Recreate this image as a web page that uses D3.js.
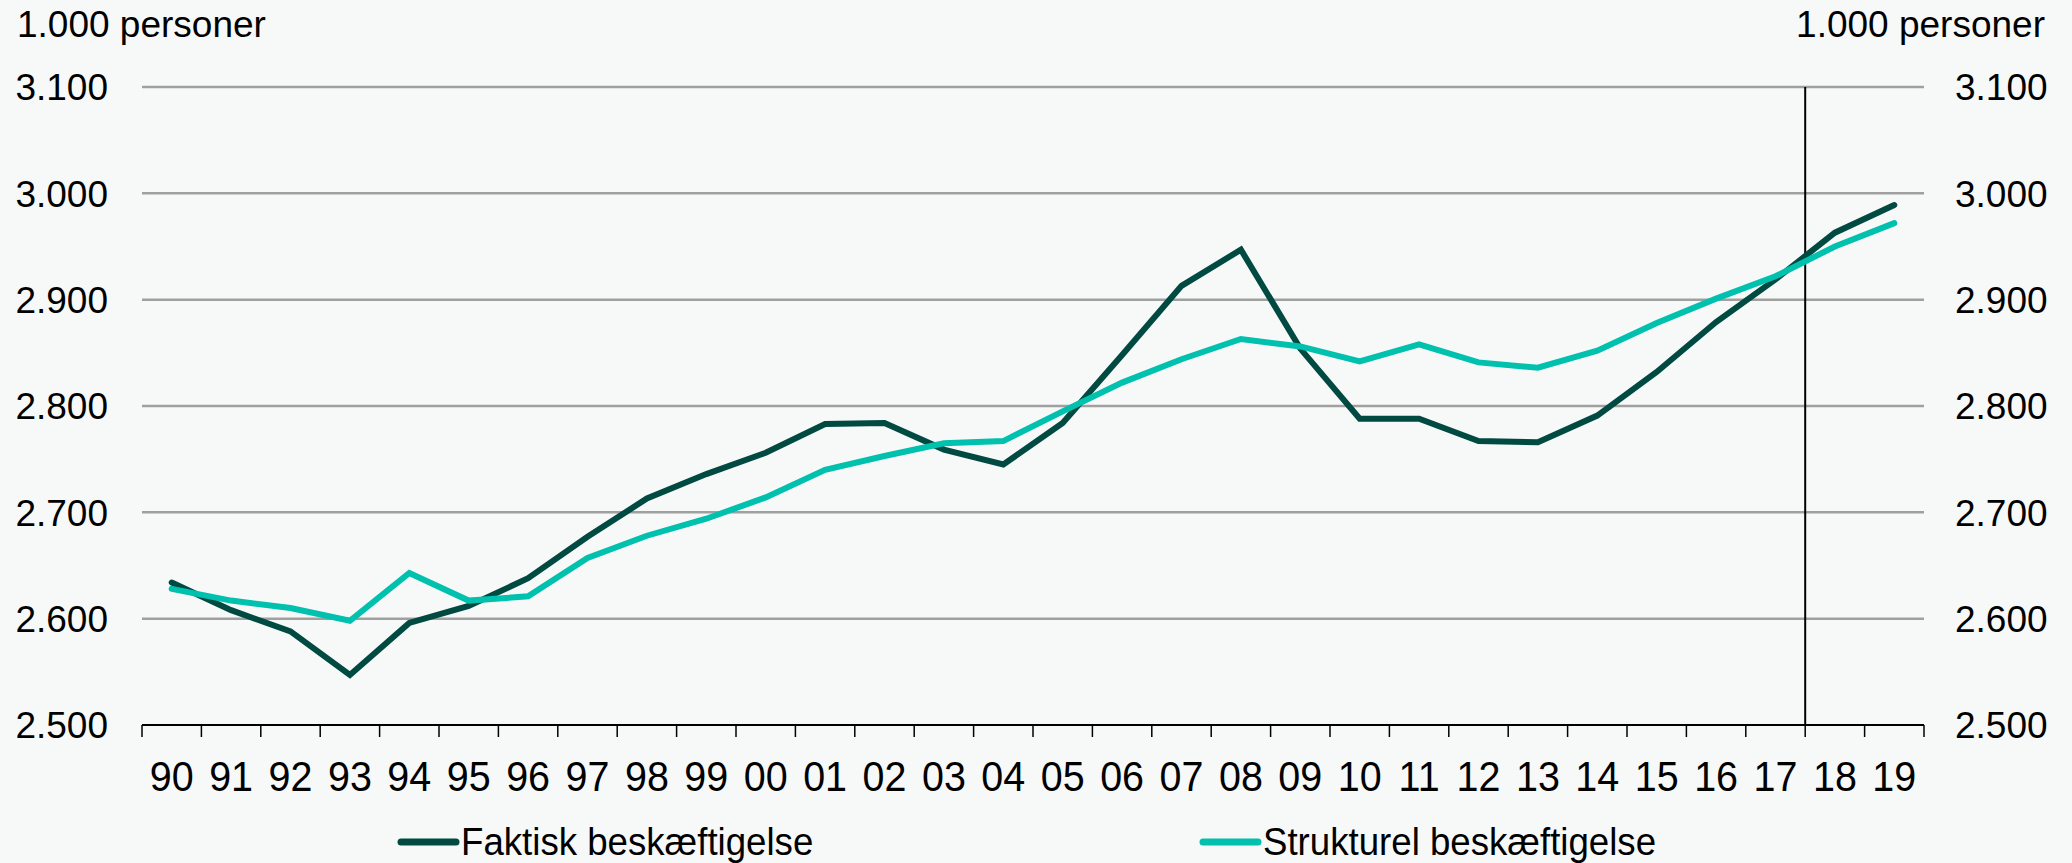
<!DOCTYPE html>
<html>
<head>
<meta charset="utf-8">
<script src="https://cdn.jsdelivr.net/npm/d3@7"></script>
<style>
  html, body { margin: 0; padding: 0; background: #f7f9f9; }
  svg { display: block; font-family: "Liberation Sans", Arial, sans-serif; }
</style>
</head>
<body>
<svg id="chart" width="2072" height="863"></svg>
<script>
// years on the x axis (two-digit labels)
var years = ["90","91","92","93","94","95","96","97","98","99","00","01","02","03","04",
             "05","06","07","08","09","10","11","12","13","14","15","16","17","18","19"];

// 1.000 personer
var faktisk = [2634, 2608, 2588, 2547, 2596, 2612, 2638, 2677, 2713, 2736, 2756, 2783, 2784, 2759, 2745,
               2784, 2848, 2913, 2947, 2854, 2788, 2788, 2767, 2766, 2791, 2832, 2879, 2919, 2963, 2989];
var strukturel = [2628, 2617, 2610, 2598, 2643, 2617, 2621, 2657, 2678, 2694, 2714, 2740, 2753, 2765, 2767,
                  2795, 2822, 2844, 2863, 2856, 2842, 2858, 2841, 2836, 2852, 2878, 2901, 2922, 2950, 2972];

var yTicks = [2500, 2600, 2700, 2800, 2900, 3000, 3100];
var seriesNames = ["Faktisk beskæftigelse", "Strukturel beskæftigelse"];
var colors = ["#004a42", "#00c0ae"];

var svg = d3.select("#chart");

var margin = {top: 87, right: 148, bottom: 138, left: 142},
    width = 2072 - margin.left - margin.right,
    height = 863 - margin.top - margin.bottom;

var x = d3.scaleBand()
  .domain(years)
  .range([margin.left, margin.left + width]);

var y = d3.scaleLinear()
  .domain([2500, 3100])
  .range([margin.top + height, margin.top]);

var fmt = function (v) { return d3.format(",")(v).replace(",", "."); };

// gridlines
svg.append("g")
  .selectAll("line")
  .data(yTicks.slice(1))
  .enter()
  .append("line")
    .attr("x1", margin.left)
    .attr("x2", margin.left + width)
    .attr("y1", function (d) { return y(d); })
    .attr("y2", function (d) { return y(d); })
    .style("stroke", "#a0a0a0")
    .style("stroke-width", 2.5);

// left y labels
svg.append("g")
  .selectAll("text")
  .data(yTicks)
  .enter()
  .append("text")
    .attr("x", 108)
    .attr("y", function (d) { return y(d); })
    .attr("dy", "0.36em")
    .attr("text-anchor", "end")
    .style("font-size", "37px")
    .text(fmt);

// right y labels
svg.append("g")
  .selectAll("text")
  .data(yTicks)
  .enter()
  .append("text")
    .attr("x", 1955)
    .attr("y", function (d) { return y(d); })
    .attr("dy", "0.36em")
    .attr("text-anchor", "start")
    .style("font-size", "37px")
    .text(fmt);

// unit labels
svg.append("text")
  .attr("x", 17).attr("y", 37)
  .style("font-size", "37px")
  .text("1.000 personer");
svg.append("text")
  .attr("x", 2045).attr("y", 37)
  .attr("text-anchor", "end")
  .style("font-size", "37px")
  .text("1.000 personer");

// x axis line + ticks between categories
var xAxis = svg.append("g");
xAxis.append("line")
  .attr("x1", margin.left).attr("x2", margin.left + width)
  .attr("y1", y(2500)).attr("y2", y(2500))
  .style("stroke", "#000").style("stroke-width", 2);

var bounds = years.map(function (d) { return x(d); }).concat([margin.left + width]);
xAxis.selectAll(".tick")
  .data(bounds)
  .enter()
  .append("line")
    .attr("class", "tick")
    .attr("x1", function (d) { return d; })
    .attr("x2", function (d) { return d; })
    .attr("y1", y(2500))
    .attr("y2", y(2500) + 12)
    .style("stroke", "#000").style("stroke-width", 1.5);

// the category labels are a bit narrow in the original, squeeze them
xAxis.selectAll("text")
  .data(years)
  .enter()
  .append("text")
    .attr("transform", function (d) {
      return "translate(" + (x(d) + x.bandwidth() / 2) + ",791) scale(0.94,1)";
    })
    .attr("text-anchor", "middle")
    .style("font-size", "42px")
    .text(function (d) { return d; });

// vertical separator between 17 and 18 (forecast years)
svg.append("line")
  .attr("x1", x("18")).attr("x2", x("18"))
  .attr("y1", y(3100)).attr("y2", y(2500))
  .style("stroke", "#000").style("stroke-width", 2);

// lines
var line = d3.line()
  .x(function (d, i) { return x(years[i]) + x.bandwidth() / 2; })
  .y(function (d) { return y(d); });

[faktisk, strukturel].forEach(function (s, k) {
  svg.append("path")
    .datum(s)
    .attr("d", line)
    .style("fill", "none")
    .style("stroke", colors[k])
    .style("stroke-width", 6)
    .style("stroke-linecap", "round")
    .style("stroke-linejoin", "miter");
});

// legend
var legendX = [401, 1203];
var leg = svg.append("g")
  .selectAll("g")
  .data(seriesNames)
  .enter()
  .append("g")
    .attr("transform", function (d, i) { return "translate(" + legendX[i] + ",842)"; });

leg.append("line")
  .attr("x1", 0).attr("x2", 55)
  .attr("y1", 0).attr("y2", 0)
  .style("stroke", function (d, i) { return colors[i]; })
  .style("stroke-width", 7)
  .style("stroke-linecap", "round");

leg.append("text")
  .attr("transform", "translate(60,13) scale(0.94,1)")
  .style("font-size", "39px")
  .text(function (d) { return d; });
</script>
</body>
</html>
